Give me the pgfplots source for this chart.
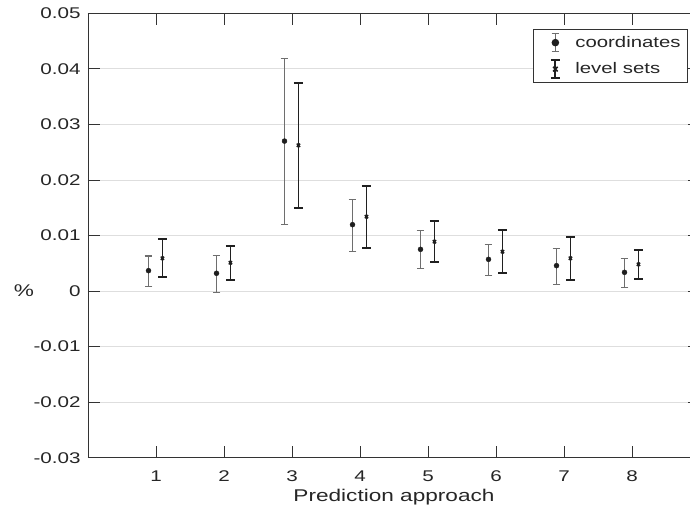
\documentclass[border=0pt]{standalone}
\usepackage{fontspec}
\setmainfont{Liberation Sans}[FakeStretch=1.33]
\usepackage{pgfplots}
\pgfplotsset{compat=1.18}
\usepackage{pgfplotstable}
\definecolor{axc}{HTML}{333333}
\definecolor{txt}{HTML}{262626}
\definecolor{gridc}{HTML}{DEDEDE}
\definecolor{cbar}{HTML}{6E6E6E}
\definecolor{lbar}{HTML}{202020}
\definecolor{mk}{HTML}{1E1E1E}

\pgfplotstableread{
x y ep em
0.89 0.00367 0.00264 0.00288
1.89 0.00320 0.00317 0.00343
2.89 0.02700 0.01480 0.01506
3.89 0.01195 0.00457 0.00474
4.89 0.00751 0.00336 0.00354
5.89 0.00571 0.00270 0.00294
6.89 0.00457 0.00318 0.00336
7.89 0.00337 0.00246 0.00277
}\coordtab

\pgfplotstableread{
x y ep em
1.095 0.00590 0.00341 0.00343
2.095 0.00510 0.00300 0.00306
3.095 0.02624 0.01126 0.01124
4.095 0.01339 0.00558 0.00569
5.095 0.00889 0.00366 0.00360
6.095 0.00709 0.00390 0.00389
7.095 0.00590 0.00383 0.00385
8.095 0.00481 0.00264 0.00264
}\leveltab

\begin{document}
\begin{tikzpicture}
\begin{axis}[
  at={(0,0)}, anchor=south west,
  scale only axis,
  width=612bp, height=444.4bp,
  xmin=0, xmax=9, ymin=-0.03, ymax=0.05,
  xtick={1,2,3,4,5,6,7,8},
  xticklabels={1,2,3,4,5,6,7,8},
  ytick={-0.03,-0.02,-0.01,0,0.01,0.02,0.03,0.04,0.05},
  yticklabels={-0.03,-0.02,-0.01,0,0.01,0.02,0.03,0.04,0.05},
  tick align=inside,
  major tick length=12bp,
  tick style={color=axc, line width=0.9bp},
  axis line style={color=axc, line width=0.9bp},
  ymajorgrids,
  grid style={color=gridc, line width=0.9bp},
  xticklabel style={font=\fontsize{15.5bp}{18bp}\selectfont, text=txt, inner sep=0pt, yshift=-13bp},
  yticklabel style={font=\fontsize{15.5bp}{18bp}\selectfont, text=txt, inner sep=0pt, xshift=-7.3bp},
  xlabel={Prediction approach},
  xlabel style={at={(axis description cs:0.5,0)}, anchor=north, inner sep=0pt, yshift=-31.5bp, font=\fontsize{17bp}{20bp}\selectfont, text=txt},
  ylabel={\%},
  every axis y label/.style={at={(axis description cs:-0.1046,0.375)}, anchor=center, font=\fontsize{17bp}{20bp}\selectfont, text=txt},
  legend style={at={(axis description cs:0.7271,0.9647)}, anchor=north west,
    draw=axc, line width=0.8bp, fill=white, inner sep=0pt,
    font=\fontsize{15.3bp}{18bp}\selectfont, text=txt,
    row sep=0pt, column sep=0pt, nodes={inner sep=0pt}},
  legend cell align=left,
]
\addplot[only marks, mark=*, mark size=2.5bp, color=mk,
  legend image code/.code={
    \path[draw=none, fill=none] (-22bp,-13.25bp) rectangle (20bp,13.25bp);
    \draw[line width=1bp, cbar, fill=none] (0bp,-9bp) -- (0bp,9bp)
      (-3.85bp,-9bp) -- (3.85bp,-9bp) (-3.85bp,9bp) -- (3.85bp,9bp);
    \fill[mk, draw=none] (0bp,0bp) circle (3.8bp);
  },
  error bars/.cd, y dir=both, y explicit,
  error bar style={line width=1bp, color=cbar},
  error mark options={rotate=90, mark size=3.85bp, line width=1bp, color=cbar}]
  table[x=x, y=y, y error plus=ep, y error minus=em] {\coordtab};
\addlegendentry{coordinates\kern7bp}
\addplot[only marks, mark=x, mark size=2.3bp, line width=1.5bp, color=mk,
  legend image code/.code={
    \path[draw=none, fill=none] (-22bp,-13.25bp) rectangle (20bp,13.25bp);
    \draw[line width=1.8bp, lbar, fill=none] (0bp,-9bp) -- (0bp,9bp)
      (-4.5bp,-9bp) -- (4.5bp,-9bp) (-4.5bp,9bp) -- (4.5bp,9bp);
    \draw[line width=1.5bp, mk, fill=none] (-2.3bp,-2.3bp) -- (2.3bp,2.3bp) (-2.3bp,2.3bp) -- (2.3bp,-2.3bp);
  },
  error bars/.cd, y dir=both, y explicit,
  error bar style={line width=1.8bp, color=lbar},
  error mark options={rotate=90, mark size=4.5bp, line width=1.8bp, color=lbar}]
  table[x=x, y=y, y error plus=ep, y error minus=em] {\leveltab};
\addlegendentry{level sets}
\end{axis}
\pgfresetboundingbox
\path[use as bounding box] (-88bp,-61.3bp) rectangle (602bp,457.7bp);
\end{tikzpicture}
\end{document}
